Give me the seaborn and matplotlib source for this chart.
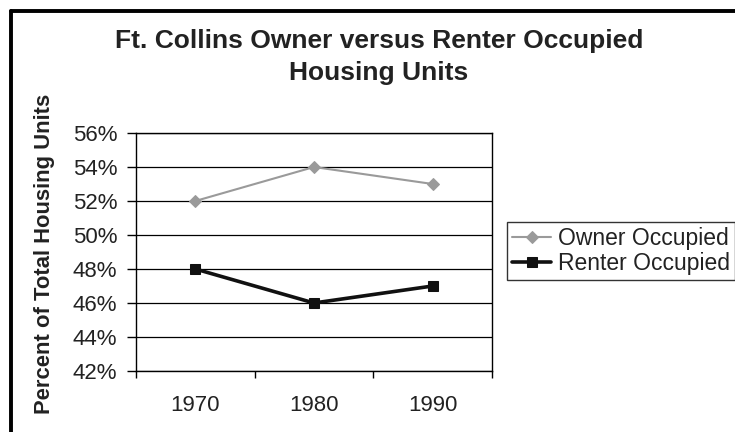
import pandas as pd
import seaborn as sns
import matplotlib.pyplot as plt
from matplotlib.lines import Line2D
from matplotlib.ticker import FuncFormatter

# --- data ---
years = ["1970", "1980", "1990"]
owner_pct = [52, 54, 53]
renter_pct = [48, 46, 47]

sns.set_theme(style="white")
plt.rcParams['font.family'] = ['Liberation Sans', 'DejaVu Sans']

W, H = 735, 432
# plot area in pixels (left, right, top, bottom)
L, R, T, B = 136, 492, 133, 371
fig = plt.figure(figsize=(W / 100, H / 100), dpi=100)
ax = fig.add_axes([L / W, 1 - B / H, (R - L) / W, (B - T) / H])

df_owner = pd.DataFrame({"x": range(len(years)), "pct": owner_pct})
df_renter = pd.DataFrame({"x": range(len(years)), "pct": renter_pct})

sns.lineplot(data=df_owner, x="x", y="pct", ax=ax, color="#9a9a9a", lw=1.5,
             marker="D", markersize=6, markeredgecolor="#9a9a9a",
             label="Owner Occupied")
sns.lineplot(data=df_renter, x="x", y="pct", ax=ax, color="#111111", lw=2.6,
             marker="s", markersize=7, markeredgecolor="#111111",
             label="Renter Occupied")

# axes setup, Excel look
ax.set_xlim(-0.5, len(years) - 0.5)
ax.set_ylim(42, 56)
ax.set_yticks(range(42, 57, 2))
ax.yaxis.set_major_formatter(FuncFormatter(lambda v, p: f"{v:.0f}%"))
ax.set_xticks(range(len(years)))
ax.set_xticklabels(years)
# tick marks sit between the categories
ax.set_xticks([i - 0.5 for i in range(len(years) + 1)], minor=True)
ax.tick_params(axis="x", which="major", length=0, pad=17, labelsize=16, colors="#222222")
ax.tick_params(axis="x", which="minor", length=5, width=1, color="black",
               direction="out", bottom=True)
ax.tick_params(axis="y", length=6.5, width=1, color="black", direction="out", pad=7,
               labelsize=16, colors="#222222", left=True)
ax.grid(axis="y", color="black", lw=0.9)
ax.set_axisbelow(True)
for s in ax.spines.values():
    s.set_visible(True)
    s.set_color("black")
    s.set_linewidth(1)
ax.set_xlabel("")
ax.set_ylabel("Percent of Total Housing Units", fontsize=15.8, fontweight="bold",
              color="#222222")
ax.yaxis.set_label_coords((55 - L) / (R - L), (B - 254) / (B - T))

# two-line title, placed by baseline
fig.text(379 / W, 1 - 48 / H, "Ft. Collins Owner versus Renter Occupied",
         ha="center", va="baseline", fontsize=19, fontweight="bold", color="#222222")
fig.text(379 / W, 1 - 80 / H, "Housing Units",
         ha="center", va="baseline", fontsize=19, fontweight="bold", color="#222222")

leg = ax.legend(loc="upper left", bbox_to_anchor=(507 / W, 1 - 222 / H),
                bbox_transform=fig.transFigure, frameon=True, fancybox=False,
                fontsize=16.5, borderpad=0.22, labelspacing=0.1, handlelength=1.7,
                handletextpad=0.3, borderaxespad=0)
leg.get_frame().set_edgecolor("black")
leg.get_frame().set_linewidth(1)
for t in leg.get_texts():
    t.set_color("#222222")

# outer chart border (only left and top visible in the crop)
bx, by = 11 / W, 1 - 11 / H
fig.add_artist(Line2D([bx, bx], [0, by], transform=fig.transFigure, color="black", lw=2.8))
fig.add_artist(Line2D([bx, 1], [by, by], transform=fig.transFigure, color="black", lw=2.8))

fig.savefig("out.png", dpi=100, facecolor="white")
